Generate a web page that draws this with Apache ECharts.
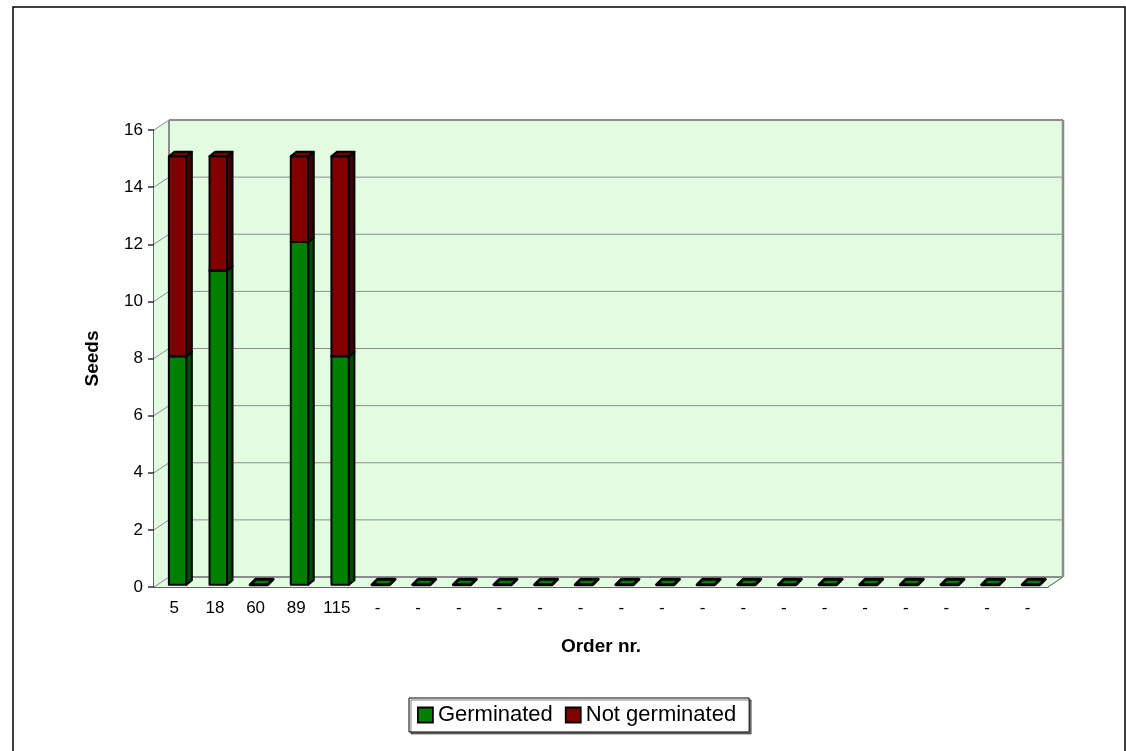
<!DOCTYPE html>
<html>
<head>
<meta charset="utf-8">
<script src="https://cdn.jsdelivr.net/npm/echarts@6/dist/echarts.min.js"></script>
<style>
  html, body { margin: 0; padding: 0; background: #fff; }
  #chart { width: 1126px; height: 751px; }
</style>
</head>
<body>
<div id="chart"></div>
<script>
const categories = ['5', '18', '60', '89', '115', '-', '-', '-', '-', '-', '-', '-', '-', '-', '-', '-', '-', '-', '-', '-', '-', '-']
const germinated = [8, 11, 0, 12, 8, 0, 0, 0, 0, 0, 0, 0, 0, 0, 0, 0, 0, 0, 0, 0, 0, 0]
const notGerminated = [7, 4, 0, 3, 7, 0, 0, 0, 0, 0, 0, 0, 0, 0, 0, 0, 0, 0, 0, 0, 0, 0]
const yTicks = [0, 2, 4, 6, 8, 10, 12, 14, 16]

const FONT = 'Arial, "Liberation Sans", sans-serif'
// depth of the 3D floor in pixels
const DX = 15
const DY = -10

const chart = echarts.init(document.getElementById('chart'))

// back wall, side wall, floor and their grid lines
const renderWalls = (params, api) => {
  const cs = params.coordSys
  const v = api.value(0)
  const y = api.coord([0, v])[1]
  const x0 = cs.x
  const x1 = cs.x + cs.width
  const yb = cs.y + cs.height
  const children = []
  const gray = '#8c8c8c'
  if (params.dataIndex === 0) {
    const fill = '#e2fce2'
    children.push({ type: 'rect', shape: { x: x0 + DX, y: cs.y + DY, width: cs.width, height: cs.height }, style: { fill } })
    children.push({ type: 'polygon', shape: { points: [[x0, yb], [x0 + DX, yb + DY], [x0 + DX, cs.y + DY], [x0, cs.y]] }, style: { fill } })
    children.push({ type: 'polygon', shape: { points: [[x0, yb], [x1, yb], [x1 + DX, yb + DY], [x0 + DX, yb + DY]] }, style: { fill } })
    children.push({ type: 'line', shape: { x1: x1, y1: yb, x2: x1 + DX, y2: yb + DY }, style: { stroke: '#555', lineWidth: 1 } })
    children.push({ type: 'line', shape: { x1: x0 + DX, y1: yb + DY, x2: x0 + DX, y2: cs.y + DY }, style: { stroke: gray, lineWidth: 2 } })
  }
  children.push({ type: 'line', shape: { x1: x0, y1: y, x2: x0 + DX, y2: y + DY }, style: { stroke: gray, lineWidth: 1 } })
  const top = v === yTicks[yTicks.length - 1]
  children.push({ type: 'line', shape: { x1: x0 + DX, y1: y + DY, x2: x1 + DX, y2: y + DY }, style: { stroke: gray, lineWidth: top || v === 0 ? 2 : 1 } })
  if (top) {
    children.push({ type: 'line', shape: { x1: x1 + DX, y1: y + DY, x2: x1 + DX, y2: yb + DY }, style: { stroke: gray, lineWidth: 2.5 } })
  }
  return { type: 'group', children }
}

// a 3D column segment from value lo to hi
const makeBar = (face, side, topc, drawFlat) => (params, api) => {
  const i = api.value(0)
  const lo = api.value(1)
  const hi = api.value(2)
  if (hi <= lo && !drawFlat) return null
  const bw = api.size([1, 0])[0]
  const c0 = api.coord([i, lo])
  const c1 = api.coord([i, hi])
  const f0 = 0.22
  const w = bw * 0.43
  const xl = c0[0] - w / 2 + DX * f0
  const xr = xl + w
  const yBot = c0[1] + DY * f0
  const yTop = c1[1] + DY * f0
  const ddx = 5.5
  const ddy = -4.5
  const stroke = { stroke: '#000', lineWidth: 2, lineJoin: 'round' }
  const children = []
  if (yBot - yTop > 0.5) {
    children.push({ type: 'rect', shape: { x: xl, y: yTop, width: w, height: yBot - yTop }, style: Object.assign({ fill: face }, stroke) })
    children.push({ type: 'polygon', shape: { points: [[xr, yBot], [xr + ddx, yBot + ddy], [xr + ddx, yTop + ddy], [xr, yTop]] }, style: Object.assign({ fill: side }, stroke) })
    children.push({ type: 'polygon', shape: { points: [[xl, yTop], [xr, yTop], [xr + ddx, yTop + ddy], [xl + ddx, yTop + ddy]] }, style: Object.assign({ fill: topc }, stroke) })
  } else {
    children.push({ type: 'polygon', shape: { points: [[xl, yTop], [xr, yTop], [xr + ddx, yTop + ddy - 1], [xl + ddx, yTop + ddy - 1]] }, style: { fill: face, stroke: '#000', lineWidth: 3, lineJoin: 'round' } })
  }
  return { type: 'group', children }
}

const option = {
  backgroundColor: '#fff',
  animation: false,
  textStyle: { fontFamily: FONT },
  graphic: [{
    type: 'rect',
    shape: { x: 13, y: 7, width: 1112, height: 780 },
    style: { fill: 'none', stroke: '#000', lineWidth: 1.5 },
    z: 100
  }],
  grid: { left: 154, top: 130, width: 894, height: 457 },
  legend: {
    left: 409,
    top: 698,
    data: ['Germinated', 'Not germinated'],
    icon: 'rect',
    itemWidth: 15,
    itemHeight: 15,
    itemGap: 12,
    padding: [6, 13, 6, 8],
    borderColor: '#000',
    borderWidth: 1,
    shadowColor: 'rgba(0,0,0,0.5)',
    shadowOffsetX: 2,
    shadowOffsetY: 2,
    backgroundColor: '#fff',
    itemStyle: { borderColor: '#000', borderWidth: 1.8 },
    textStyle: { fontSize: 22, color: '#000', fontFamily: FONT }
  },
  xAxis: {
    type: 'category',
    data: categories,
    name: 'Order nr.',
    nameLocation: 'middle',
    nameGap: 50,
    nameTextStyle: { fontSize: 19, fontWeight: 'bold', color: '#000', fontFamily: FONT },
    axisLine: { lineStyle: { color: '#333', width: 1.5 } },
    axisTick: { length: 8, lineStyle: { color: '#333', width: 1.5 } },
    axisLabel: { interval: 0, fontSize: 17, color: '#000', margin: 13, fontFamily: FONT },
    splitLine: { show: false }
  },
  yAxis: {
    type: 'value',
    min: 0,
    max: 16,
    interval: 2,
    name: 'Seeds',
    nameLocation: 'middle',
    nameGap: 52,
    nameTextStyle: { fontSize: 19, fontWeight: 'bold', color: '#000', fontFamily: FONT },
    axisLine: { show: true, lineStyle: { color: '#333', width: 1.5 } },
    axisTick: { show: true, length: 6, lineStyle: { color: '#333', width: 1.5 } },
    axisLabel: { fontSize: 17, color: '#000', margin: 11, fontFamily: FONT },
    splitLine: { show: false }
  },
  series: [
    {
      type: 'custom',
      name: 'walls',
      silent: true,
      z: 1,
      renderItem: renderWalls,
      data: yTicks.map(v => [v]),
      encode: { y: 0 }
    },
    {
      type: 'custom',
      name: 'Germinated',
      z: 5,
      itemStyle: { color: '#008000' },
      renderItem: makeBar('#008000', '#004d00', '#006a00', true),
      encode: { x: 0, y: 2 },
      data: germinated.map((g, i) => [i, 0, g])
    },
    {
      type: 'custom',
      name: 'Not germinated',
      z: 6,
      itemStyle: { color: '#800000' },
      renderItem: makeBar('#800000', '#400000', '#700000', false),
      encode: { x: 0, y: 2 },
      data: notGerminated.map((n, i) => [i, germinated[i], germinated[i] + n])
    }
  ]
}

chart.setOption(option)
</script>
</body>
</html>
